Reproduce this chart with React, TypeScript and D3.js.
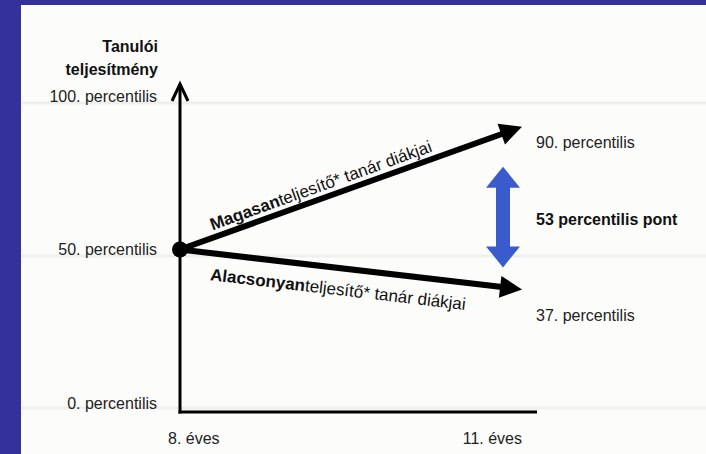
import React from 'react';
import * as d3 from 'd3';

// values
const yTicks = [0, 50, 100];
const yTickLabels = ['0. percentilis', '50. percentilis', '100. percentilis'];
const xAges = [8, 11];
const xTickLabels = ['8. éves', '11. éves'];
const startValue = 50;
const highEnd = 90;
const lowEnd = 37;
const yTitle = ['Tanulói', 'teljesítmény'];
const highLabel = ['Magasan', 'teljesítő* tanár diákjai'];
const lowLabel = ['Alacsonyan', 'teljesítő* tanár diákjai'];

const W = 706;
const H = 454;
const FONT = '"Liberation Sans", Arial, sans-serif';

export default function App() {
  const x = d3.scaleLinear().domain([8, 11]).range([180, 522]);
  const y = d3.scaleLinear().domain([0, 100]).range([403, 96]);

  const x0 = x(xAges[0]);
  const x1 = x(xAges[1]);
  const y0 = y(startValue);
  const axisBottom = 412;

  // arrow with filled triangular head
  const arrow = (xa: number, ya: number, xb: number, yb: number) => {
    const ang = Math.atan2(yb - ya, xb - xa);
    const len = 22;
    const half = 11;
    const bx = xb - len * Math.cos(ang);
    const by = yb - len * Math.sin(ang);
    const px = -Math.sin(ang);
    const py = Math.cos(ang);
    const head = [
      [xb, yb],
      [bx + px * half, by + py * half],
      [bx - px * half, by - py * half],
    ];
    return {
      line: d3.line()([[xa, ya], [bx + 2 * Math.cos(ang), by + 2 * Math.sin(ang)]]) as string,
      head: 'M' + head.map(p => p.join(',')).join('L') + 'Z',
      deg: (ang * 180) / Math.PI,
      ang,
    };
  };

  const hi = arrow(x0, y0, x1, y(highEnd));
  const lo = arrow(x0, y0, x1, y(lowEnd));

  // label placed along a line: distance from start, perpendicular offset
  const along = (a: { ang: number }, d: number, off: number) => {
    const c = Math.cos(a.ang);
    const s = Math.sin(a.ang);
    return [x0 + d * c - off * s, y0 + d * s + off * c];
  };
  const hiPos = along(hi, 37, -7);
  const loPos = along(lo, 33, 27);

  // blue double arrow between the two end points
  const bx = 503;
  const bTop = y(highEnd) + 40;
  const bBot = y(lowEnd) - 22;
  const hw = 17;
  const sw = 7;
  const hl = 21;
  const blue = [
    [bx, bTop], [bx + hw, bTop + hl], [bx + sw, bTop + hl], [bx + sw, bBot - hl],
    [bx + hw, bBot - hl], [bx, bBot], [bx - hw, bBot - hl], [bx - sw, bBot - hl],
    [bx - sw, bTop + hl], [bx - hw, bTop + hl],
  ];
  const diff = highEnd - lowEnd;

  const grid = [103, 256, 408];

  return (
    <svg width={W} height={H} style={{ position: 'absolute', left: 0, top: 0 }} fontFamily={FONT}>
      <rect width={W} height={H} fill="#fcfcfa" />
      {grid.map(g => (
        <line key={g} x1={22} x2={W} y1={g} y2={g} stroke="#efefed" strokeWidth={3} />
      ))}
      <rect x={0} y={0} width={W} height={5} fill="#33329a" />
      <rect x={0} y={0} width={21} height={H} fill="#33329a" />

      {/* y axis title */}
      {yTitle.map((t, i) => (
        <text key={t} x={158} y={52 + i * 23} textAnchor="end" fontSize={16} fontWeight="bold" fill="#111">
          {t}
        </text>
      ))}

      {/* y tick labels */}
      {yTicks.map((v, i) => (
        <text key={v} x={157} y={y(v)} dy="0.35em" textAnchor="end" fontSize={16} fill="#222">
          {yTickLabels[i]}
        </text>
      ))}

      {/* axes */}
      <line x1={x0} x2={x0} y1={84} y2={axisBottom + 1.5} stroke="#000" strokeWidth={3} />
      <path d={`M${x0 - 8},${101} L${x0},${84} L${x0 + 8},${101}`} fill="none" stroke="#000" strokeWidth={3} />
      <line x1={x0 - 1.5} x2={537} y1={axisBottom} y2={axisBottom} stroke="#000" strokeWidth={3} />

      {/* x tick labels */}
      {xAges.map((v, i) => (
        <text
          key={v}
          x={i === 0 ? x(v) - 12 : x(v)}
          y={438}
          dy="0.35em"
          textAnchor={i === 0 ? 'start' : 'end'}
          fontSize={16}
          fill="#222"
        >
          {xTickLabels[i]}
        </text>
      ))}

      {/* trajectories */}
      <path d={hi.line} stroke="#000" strokeWidth={6} fill="none" />
      <path d={hi.head} fill="#000" />
      <path d={lo.line} stroke="#000" strokeWidth={6} fill="none" />
      <path d={lo.head} fill="#000" />
      <circle cx={x0} cy={y0} r={8} fill="#000" />

      <text transform={`translate(${hiPos[0]},${hiPos[1]}) rotate(${hi.deg})`} fontSize={17} fill="#111">
        <tspan fontWeight="bold">{highLabel[0]}</tspan>
        <tspan>{highLabel[1]}</tspan>
      </text>
      <text transform={`translate(${loPos[0]},${loPos[1]}) rotate(${lo.deg})`} fontSize={17} fill="#111">
        <tspan fontWeight="bold">{lowLabel[0]}</tspan>
        <tspan>{lowLabel[1]}</tspan>
      </text>

      {/* end labels */}
      <text x={536} y={y(highEnd) + 16} dy="0.35em" fontSize={16} fill="#222">
        {highEnd}. percentilis
      </text>
      <text x={536} y={y(lowEnd) + 26} dy="0.35em" fontSize={16} fill="#222">
        {lowEnd}. percentilis
      </text>

      {/* difference */}
      <path d={'M' + blue.map(p => p.join(',')).join('L') + 'Z'} fill="#3a5bcb" />
      <text x={536} y={219} dy="0.35em" fontSize={16} fontWeight="bold" fill="#111">
        {diff} percentilis pont
      </text>
    </svg>
  );
}
